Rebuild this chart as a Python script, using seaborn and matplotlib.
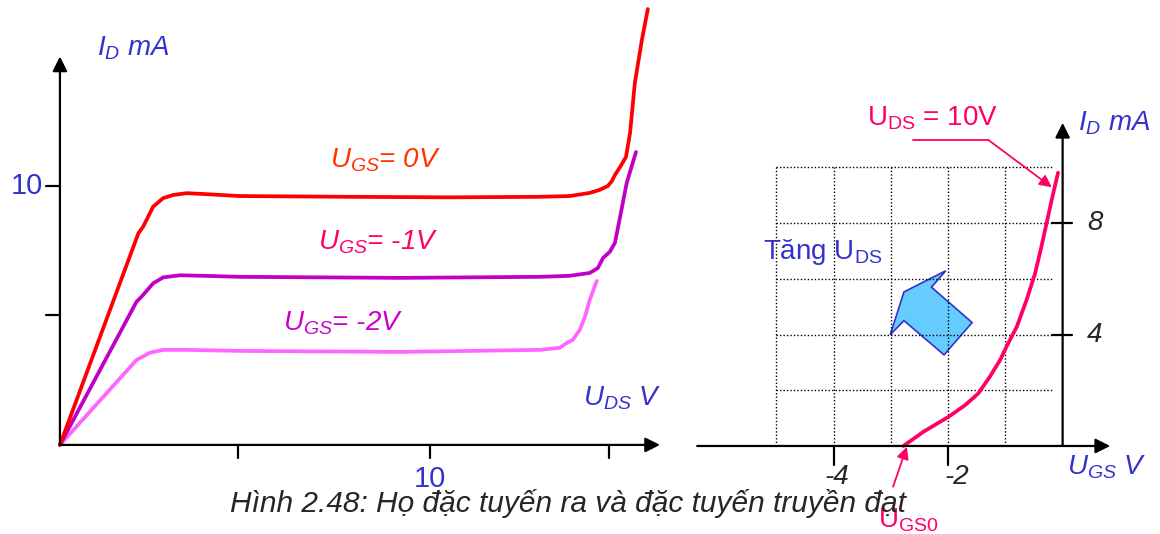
import numpy as np
import pandas as pd
import matplotlib
matplotlib.use('Agg')
import matplotlib.pyplot as plt
from matplotlib.patches import Polygon
import seaborn as sns

# dac tuyen ra: U_DS (V), I_D (mA)
uds_0 = [0, 2.12, 2.25, 2.52, 2.79, 3.06, 3.42, 3.87, 4.86, 7.84, 10.54, 12.97, 13.78, 14.32, 14.59, 14.81,
         14.92, 15.0, 15.14, 15.30, 15.41, 15.54, 15.73, 15.89]
id_0 = [0, 8.17, 8.43, 9.20, 9.53, 9.65, 9.72, 9.69, 9.61, 9.58, 9.56, 9.58, 9.61, 9.73, 9.85, 10.0,
        10.19, 10.42, 10.73, 11.12, 12.05, 13.98, 15.64, 16.83]
uds_1 = [0, 2.07, 2.21, 2.52, 2.79, 3.24, 3.87, 4.86, 9.19, 12.97, 13.78, 14.32, 14.54, 14.68, 14.86, 15.0,
         15.14, 15.32, 15.57]
id_1 = [0, 5.53, 5.73, 6.24, 6.47, 6.55, 6.53, 6.49, 6.45, 6.49, 6.53, 6.64, 6.83, 7.22, 7.45, 7.80,
        8.80, 10.12, 11.31]
uds_2 = [0, 2.07, 2.43, 2.79, 3.42, 4.86, 9.19, 12.97, 13.51, 13.70, 13.86, 14.05, 14.19, 14.32, 14.51]
id_2 = [0, 3.28, 3.56, 3.67, 3.67, 3.63, 3.59, 3.67, 3.75, 3.94, 4.05, 4.44, 4.94, 5.60, 6.33]

# dac tuyen truyen dat (U_DS = 10V): U_GS (V), I_D (mA)
ugs_t = [-2.78, -2.43, -1.99, -1.70, -1.47, -1.27, -1.09, -0.95, -0.80, -0.63, -0.48, -0.37, -0.28, -0.19, -0.08]
id_t = [0, 0.51, 1.05, 1.47, 1.89, 2.49, 3.09, 3.69, 4.28, 5.24, 6.20, 7.16, 8.00, 8.84, 9.81]

# mui ten "Tang U_DS"
arrow_pts = [(-2.77, 5.53), (-2.04, 6.29), (-2.29, 5.70), (-1.58, 4.43),
             (-2.07, 3.27), (-2.77, 4.50), (-3.01, 3.99)]

blue = '#3333cc'
pink = '#ff0066'

sns.set_style('white')
plt.rcParams['font.family'] = ['Liberation Sans', 'DejaVu Sans']
plt.rcParams['mathtext.fontset'] = 'custom'
plt.rcParams['mathtext.rm'] = 'Liberation Sans'
plt.rcParams['mathtext.it'] = 'Liberation Sans:italic'
plt.rcParams['lines.solid_joinstyle'] = 'round'
plt.rcParams['lines.solid_capstyle'] = 'round'

fig = plt.figure(figsize=(11.6, 5.34), dpi=100)
ax1 = fig.add_axes([0, 0, 680 / 1160, 1])
ax2 = fig.add_axes([680 / 1160, 0, 480 / 1160, 1])
for ax in (ax1, ax2):
    ax.set_axis_off()

# ---- left: output characteristics
ax1.set_xlim(-1.62, 16.76)
ax1.set_ylim(-3.44, 17.18)

curves = [(uds_0, id_0, '#ff0000'), (uds_1, id_1, '#c000c8'), (uds_2, id_2, '#ff66ff')]
for xs, ys, c in curves[::-1]:
    sns.lineplot(x=xs, y=ys, ax=ax1, sort=False, estimator=None, color=c, lw=2.7, clip_on=False)

arr = dict(arrowstyle='-|>', mutation_scale=22, color='black', lw=1.6, shrinkA=0, shrinkB=0)
ax1.annotate('', xy=(16.22, 0), xytext=(0, 0), arrowprops=arr)
ax1.annotate('', xy=(0, 15.0), xytext=(0, 0), arrowprops=arr)
for t in [5, 10]:
    ax1.plot([-0.38, 0], [t, t], color='black', lw=1.6)
for t in [4.8, 10, 14.85]:
    ax1.plot([t, t], [0, -0.5], color='black', lw=1.6)

ax1.text(-0.89, 10, '10', color=blue, fontsize=21, ha='center', va='center')
ax1.text(10, -1.3, '10', color=blue, fontsize=21, ha='center', va='center')
ax1.text(1.0, 15.33, r'$I_D$ $mA$', color=blue, fontsize=20, va='center')
ax1.text(14.14, 1.81, r'$U_{DS}$ $V$', color=blue, fontsize=20, va='center')
ax1.text(7.30, 11.0, r'$U_{GS}$= 0V', color='#ff3300', fontsize=20, style='italic', va='center')
ax1.text(6.97, 7.84, r'$U_{GS}$= -1V', color=pink, fontsize=20, style='italic', va='center')
ax1.text(6.03, 4.71, r'$U_{GS}$= -2V', color='#cc00cc', fontsize=20, style='italic', va='center')

# ---- right: transfer characteristic
ax2.set_xlim(-6.68, 1.70)
ax2.set_ylim(-3.16, 16.01)

ax2.vlines([-5, -4, -3, -2, -1], 0, 10, colors='black', linestyles=(0, (1, 1.5)), lw=1)
ax2.hlines([2, 4, 6, 8, 10], -5, -0.19, colors='black', linestyles=(0, (1, 1.5)), lw=1)

ax2.annotate('', xy=(0.83, 0), xytext=(-6.38, 0), arrowprops=arr)
ax2.annotate('', xy=(0, 11.6), xytext=(0, 0), arrowprops=arr)
for t in [4, 8]:
    ax2.plot([-0.18, 0.17], [t, t], color='black', lw=1.6)
for t in [-4, -2]:
    ax2.plot([t, t], [0, -0.68], color='black', lw=1.6)

sns.lineplot(x=ugs_t, y=id_t, ax=ax2, sort=False, estimator=None, color=pink, lw=2.7)

ax2.add_patch(Polygon(arrow_pts, closed=True, facecolor='#66ccff', edgecolor=blue, lw=1.2))

ax2.text(0.56, 8, '8', fontsize=20, style='italic', ha='center', va='center')
ax2.text(0.56, 4, '4', fontsize=20, style='italic', ha='center', va='center')
ax2.text(-3.94, -1.1, '-4', fontsize=20, style='italic', ha='center', va='center')
ax2.text(-1.84, -1.1, '-2', fontsize=20, style='italic', ha='center', va='center')
ax2.text(0.27, 11.6, r'$I_D$ $mA$', color=blue, fontsize=20, va='center')
ax2.text(0.08, -0.75, r'$U_{GS}$ $V$', color=blue, fontsize=20, va='center')
ax2.text(-5.23, 6.97, r'Tăng U$_\mathrm{DS}$', color=blue, fontsize=20, va='center')
ax2.text(-3.42, 11.77, r'U$_\mathrm{DS}$ = 10V', color=pink, fontsize=20, va='center')
ax2.text(-3.22, -2.66, r'U$_\mathrm{GS0}$', color=pink, fontsize=20, va='center')

parr = dict(arrowstyle='-|>', mutation_scale=18, color=pink, lw=1.3, shrinkA=0, shrinkB=0)
ax2.plot([-2.61, -1.30], [10.99, 10.99], color=pink, lw=1.3)
ax2.annotate('', xy=(-0.19, 9.29), xytext=(-1.30, 10.99), arrowprops=parr)
ax2.annotate('', xy=(-2.72, -0.03), xytext=(-2.96, -1.46), arrowprops=parr)

fig.text(0.4897, 0.058, 'Hình 2.48: Họ đặc tuyến ra và đặc tuyến truyền đạt',
         fontsize=21.5, style='italic', ha='center', va='center')

fig.savefig('out.png', dpi=100)
